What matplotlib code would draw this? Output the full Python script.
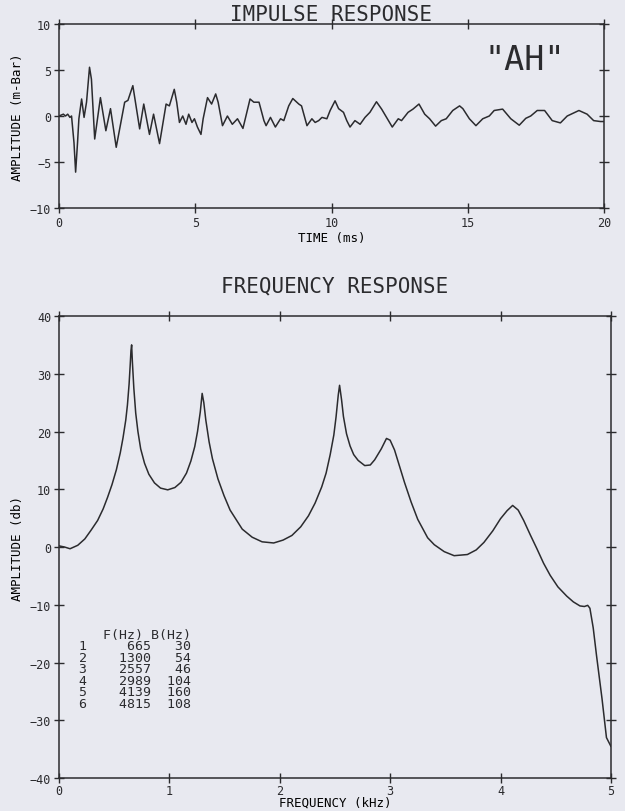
import matplotlib
matplotlib.use("Agg")
import matplotlib.pyplot as plt

# ----------------------
# Data
# ----------------------
time_ms = [0.0, 0.16, 0.24, 0.32, 0.4, 0.46, 0.55, 0.61, 0.68, 0.73, 0.83, 0.92, 1.01, 1.12, 1.19,
           1.31, 1.52, 1.72, 1.89, 2.1, 2.41, 2.53, 2.71, 2.96, 3.11, 3.32, 3.47, 3.69, 3.93, 4.05,
           4.23, 4.32, 4.42, 4.54, 4.66, 4.76, 4.88, 4.97, 5.08, 5.21, 5.29, 5.45, 5.6, 5.75, 5.84,
           6.0, 6.18, 6.36, 6.55, 6.75, 6.95, 7.01, 7.15, 7.34, 7.52, 7.6, 7.76, 7.94, 8.13, 8.25,
           8.43, 8.58, 8.8, 8.9, 9.1, 9.28, 9.4, 9.53, 9.65, 9.83, 9.95, 10.13, 10.26, 10.44, 10.56,
           10.68, 10.86, 11.05, 11.23, 11.41, 11.65, 11.84, 12.02, 12.23, 12.45, 12.57, 12.81, 12.99,
           13.21, 13.42, 13.6, 13.82, 14.03, 14.21, 14.45, 14.7, 14.82, 15.06, 15.3, 15.55, 15.79,
           15.97, 16.28, 16.58, 16.89, 17.13, 17.31, 17.55, 17.82, 18.1, 18.4, 18.65, 19.08, 19.38,
           19.62, 19.87, 20.0]
amp_mbar = [0.0, 0.2, 0.0, 0.2, -0.15, 0.0, -2.9, -6.1, -2.9, -0.3, 1.85, -0.15, 1.5, 5.3, 4.0,
            -2.5, 2.0, -1.6, 0.8, -3.4, 1.5, 1.7, 3.3, -1.4, 1.3, -2.0, 0.2, -3.0, 1.3, 1.1,
            2.9, 1.5, -0.7, 0.0, -0.9, 0.2, -0.7, -0.3, -1.2, -2.0, -0.3, 2.0, 1.3, 2.4, 1.5,
            -1.05, 0.0, -0.9, -0.3, -1.35, 1.1, 1.85, 1.5, 1.5, -0.5, -1.05, -0.15, -1.2, -0.3, -0.5,
            1.1, 1.9, 1.3, 1.1, -1.05, -0.3, -0.7, -0.5, -0.15, -0.3, 0.6, 1.65, 0.8, 0.4, -0.5,
            -1.2, -0.5, -0.9, -0.15, 0.4, 1.55, 0.75, -0.15, -1.2, -0.3, -0.5, 0.4, 0.75,
            1.3, 0.2, -0.3, -1.1, -0.5, -0.3, 0.6, 1.1, 0.8, -0.3, -1.05, -0.3, 0.0,
            0.6, 0.75, -0.3, -1.0, -0.25, 0.0, 0.6, 0.6, -0.5, -0.75, 0.0, 0.6, 0.2,
            -0.5, -0.6, -0.6]

freq_khz = [0.0, 0.05, 0.1, 0.17, 0.234, 0.29, 0.35, 0.4, 0.44, 0.48, 0.52, 0.555, 0.58, 0.605,
            0.62, 0.635, 0.645, 0.652, 0.658, 0.665, 0.678, 0.695, 0.715, 0.74, 0.775, 0.814,
            0.865, 0.92, 0.985, 1.05, 1.105, 1.155, 1.195, 1.23, 1.255, 1.28, 1.297, 1.312, 1.33,
            1.36, 1.39, 1.44, 1.495, 1.55, 1.66, 1.75, 1.84, 1.945, 2.03, 2.11, 2.19, 2.26, 2.32,
            2.38, 2.42, 2.457, 2.49, 2.51, 2.53, 2.542, 2.56, 2.577, 2.605, 2.637, 2.67, 2.71,
            2.77, 2.82, 2.86, 2.92, 2.967, 3.0, 3.04, 3.085, 3.13, 3.19, 3.25, 3.34, 3.40, 3.49,
            3.58, 3.70, 3.78, 3.85, 3.93, 4.00, 4.06, 4.11, 4.16, 4.21, 4.27, 4.33, 4.39, 4.45,
            4.52, 4.60, 4.66, 4.72, 4.76, 4.79, 4.81, 4.84, 4.87, 4.92, 4.96, 5.0]
gain_db = [0.2, 0.0, -0.3, 0.3, 1.4, 2.9, 4.6, 6.6, 8.6, 10.8, 13.4, 16.3, 18.9, 22.0,
           24.6, 28.2, 31.5, 34.0, 35.0, 32.0, 27.5, 23.2, 20.0, 17.0, 14.5, 12.6,
           11.1, 10.2, 9.9, 10.3, 11.2, 12.8, 14.9, 17.4, 20.0, 23.4, 26.6, 25.0, 22.0,
           18.2, 15.3, 11.8, 8.9, 6.4, 3.1, 1.7, 0.9, 0.7, 1.2, 2.0, 3.5, 5.4, 7.6,
           10.4, 12.8, 16.0, 19.4, 22.5, 26.3, 28.0, 25.5, 22.6, 19.6, 17.5, 16.0, 15.0,
           14.1, 14.2, 15.1, 17.0, 18.8, 18.5, 16.8, 14.0, 11.2, 7.8, 4.8, 1.6, 0.4, -0.8,
           -1.5, -1.3, -0.5, 0.8, 2.8, 4.9, 6.3, 7.2, 6.4, 4.6, 2.1, -0.3, -2.8, -4.9,
           -6.9, -8.5, -9.5, -10.2, -10.3, -10.1, -10.6, -14.0, -18.8, -26.3, -33.0, -34.5]

formant_no = [1, 2, 3, 4, 5, 6]
formant_f = [665, 1300, 2557, 2989, 4139, 4815]
formant_b = [30, 54, 46, 104, 160, 108]

# ----------------------
# Style
# ----------------------
paper = "#e8e9f0"
ink = "#2b2b2e"
plt.rcParams["font.family"] = ["DejaVu Sans Mono"]
plt.rcParams["text.color"] = ink
plt.rcParams["axes.edgecolor"] = ink
plt.rcParams["xtick.color"] = ink
plt.rcParams["ytick.color"] = ink

fig = plt.figure(figsize=(6.25, 8.12), dpi=100, facecolor=paper)


def style_axes(ax):
    ax.set_facecolor(paper)
    for s in ax.spines.values():
        s.set_linewidth(1.1)
    ax.tick_params(axis="both", which="both", labelsize=8.5, width=1.0, pad=2)
    ax.tick_params(axis="y", left=True, right=True, direction="inout", length=7)
    ax.tick_params(axis="x", bottom=True, top=True, direction="inout", length=7)


# ----------------------
# Impulse response
# ----------------------
ax1 = fig.add_axes([0.0944, 0.7426, 0.872, 0.2266])
style_axes(ax1)
ax1.plot(time_ms, amp_mbar, color=ink, lw=1.1)
ax1.set_xlim(0, 20)
ax1.set_ylim(-10, 10)
ax1.set_xticks([0, 5, 10, 15, 20])
ax1.set_yticks([-10, -5, 0, 5, 10])
ax1.set_title("IMPULSE RESPONSE", fontsize=15, pad=3)
ax1.set_xlabel("TIME (ms)", fontsize=9, labelpad=2)
ax1.set_ylabel("AMPLITUDE (m-Bar)", fontsize=9, labelpad=4)
ax1.text(17.1, 6.1, '"AH"', fontsize=24, ha="center", va="center")

# ----------------------
# Frequency response
# ----------------------
ax2 = fig.add_axes([0.0944, 0.0406, 0.883, 0.569])
style_axes(ax2)
ax2.tick_params(axis="x", pad=1)
ax2.plot(freq_khz, gain_db, color=ink, lw=1.1)
ax2.set_xlim(0, 5)
ax2.set_ylim(-40, 40)
ax2.set_xticks([0, 1, 2, 3, 4, 5])
ax2.set_yticks(range(-40, 41, 10))
ax2.set_title("FREQUENCY RESPONSE", fontsize=15, pad=18)
ax2.set_xlabel("FREQUENCY (kHz)", fontsize=9, labelpad=-1)
ax2.set_ylabel("AMPLITUDE (db)", fontsize=9, labelpad=4)

lines = ["   F(Hz) B(Hz)"]
for n, f, b in zip(formant_no, formant_f, formant_b):
    lines.append(f"{n}{f:>8}{b:>5}")
ax2.text(0.18, -14.0, "\n".join(lines), fontsize=9.5, ha="left", va="top", linespacing=0.85)

plt.savefig("out.png", dpi=100, facecolor=paper)
